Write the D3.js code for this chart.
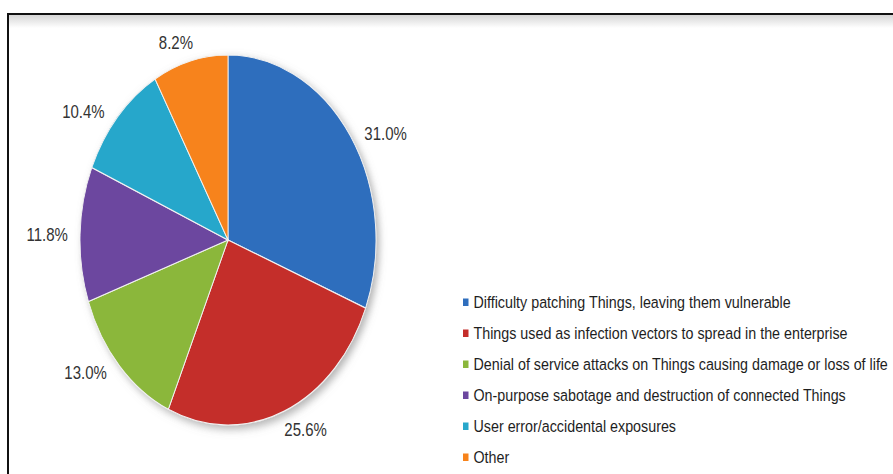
<!DOCTYPE html>
<html>
<head>
<meta charset="utf-8">
<script src="https://cdn.jsdelivr.net/npm/d3@7/dist/d3.min.js"></script>
<style>
  html, body { margin: 0; padding: 0; background: #ffffff; }
  svg { display: block; }
</style>
</head>
<body>
<svg id="chart" width="893" height="474"></svg>
<script>
// Survey categories (legend order = slice order, clockwise from 12 o'clock)
const categories = [
  "Difficulty patching Things, leaving them vulnerable",
  "Things used as infection vectors to spread in the enterprise",
  "Denial of service attacks on Things causing damage or loss of life",
  "On-purpose sabotage and destruction of connected Things",
  "User error/accidental exposures",
  "Other"
];
// Share of respondents, percent
const shares = [31.0, 25.6, 13.0, 11.8, 10.4, 8.2];
// Slice colours
const sliceColors = ["#2F6EBD", "#C42D2A", "#8BB73B", "#6C479F", "#28A7CB", "#F7831B"];

const svg = d3.select("#chart");
const W = 893, H = 474;

// ---- frame ----
const defs = svg.append("defs");
const band = defs.append("linearGradient")
  .attr("id", "headBand").attr("x1", 0).attr("y1", 0).attr("x2", 0).attr("y2", 1);
band.append("stop").attr("offset", "0%").attr("stop-color", "#d6d6d6");
band.append("stop").attr("offset", "100%").attr("stop-color", "#ffffff");

svg.append("rect").attr("x", 9).attr("y", 15).attr("width", W - 9).attr("height", 13)
  .attr("fill", "url(#headBand)");
svg.append("path")
  .attr("d", `M8,${H} L8,14 L${W},14`)
  .attr("fill", "none").attr("stroke", "#111").attr("stroke-width", 2);

// soft drop shadow under the pie
const shadow = defs.append("filter").attr("id", "pieShadow")
  .attr("x", "-20%").attr("y", "-20%").attr("width", "140%").attr("height", "140%");
shadow.append("feDropShadow")
  .attr("dx", 3).attr("dy", 3).attr("stdDeviation", 3.5)
  .attr("flood-color", "#777").attr("flood-opacity", 0.55);

// ---- pie ----
const cx = 228, cy = 240;
const rx = 148, ry = 185;          // the pie is drawn as an upright ellipse
const stretch = ry / rx;

const pie = d3.pie().sort(null).value(d => d);
const arcs = pie(shares);
const arc = d3.arc().innerRadius(0).outerRadius(rx);

const pieG = svg.append("g")
  .attr("transform", `translate(${cx},${cy}) scale(1,${stretch})`)
  .attr("filter", "url(#pieShadow)");

pieG.selectAll("path.slice")
  .data(arcs)
  .join("path")
  .attr("class", "slice")
  .attr("d", arc)
  .attr("fill", (d, i) => sliceColors[i])
  .attr("stroke", "#f2f2f2")
  .attr("stroke-width", 0.9);

// ---- percentage labels, outside the slices ----
const fmt = d3.format(".1f");
const labelFont = 15, labelStretch = 1.25;
const labelG = svg.append("g");
arcs.forEach((d, i) => {
  const a = (d.startAngle + d.endAngle) / 2;
  const s = Math.sin(a), c = Math.cos(a);
  const t = labelG.append("text")
    .attr("font-family", "Liberation Sans, Arial, sans-serif")
    .attr("font-size", labelFont)
    .attr("fill", "#333333")
    .attr("text-anchor", "middle")
    .text(fmt(shares[i]) + "%");
  const hw = t.node().getComputedTextLength() / 2;
  const hh = labelFont * 0.716 * labelStretch / 2;
  const rEdge = 1 / Math.sqrt((s * s) / (rx * rx) + (c * c) / (ry * ry));
  const dist = rEdge + 12 + Math.abs(s) * hw + Math.abs(c) * hh;
  const x = cx + s * dist, y = cy - c * dist;
  t.attr("transform", `translate(${x},${y + hh}) scale(1,${labelStretch})`);
});

// ---- legend ----
const legendX = 463, legendY0 = 302, legendStep = 31;
const legFont = 14.3, legStretch = 1.2;
const leg = svg.append("g");
categories.forEach((name, i) => {
  const y = legendY0 + i * legendStep;
  leg.append("rect")
    .attr("x", legendX).attr("y", y - 3.5)
    .attr("width", 5.5).attr("height", 7.5)
    .attr("fill", sliceColors[i]);
  leg.append("text")
    .attr("transform", `translate(${legendX + 10.5},${y + 5.5}) scale(1,${legStretch})`)
    .attr("font-family", "Liberation Sans, Arial, sans-serif")
    .attr("font-size", legFont)
    .attr("fill", "#1e1e1e")
    .text(name);
});
</script>
</body>
</html>
